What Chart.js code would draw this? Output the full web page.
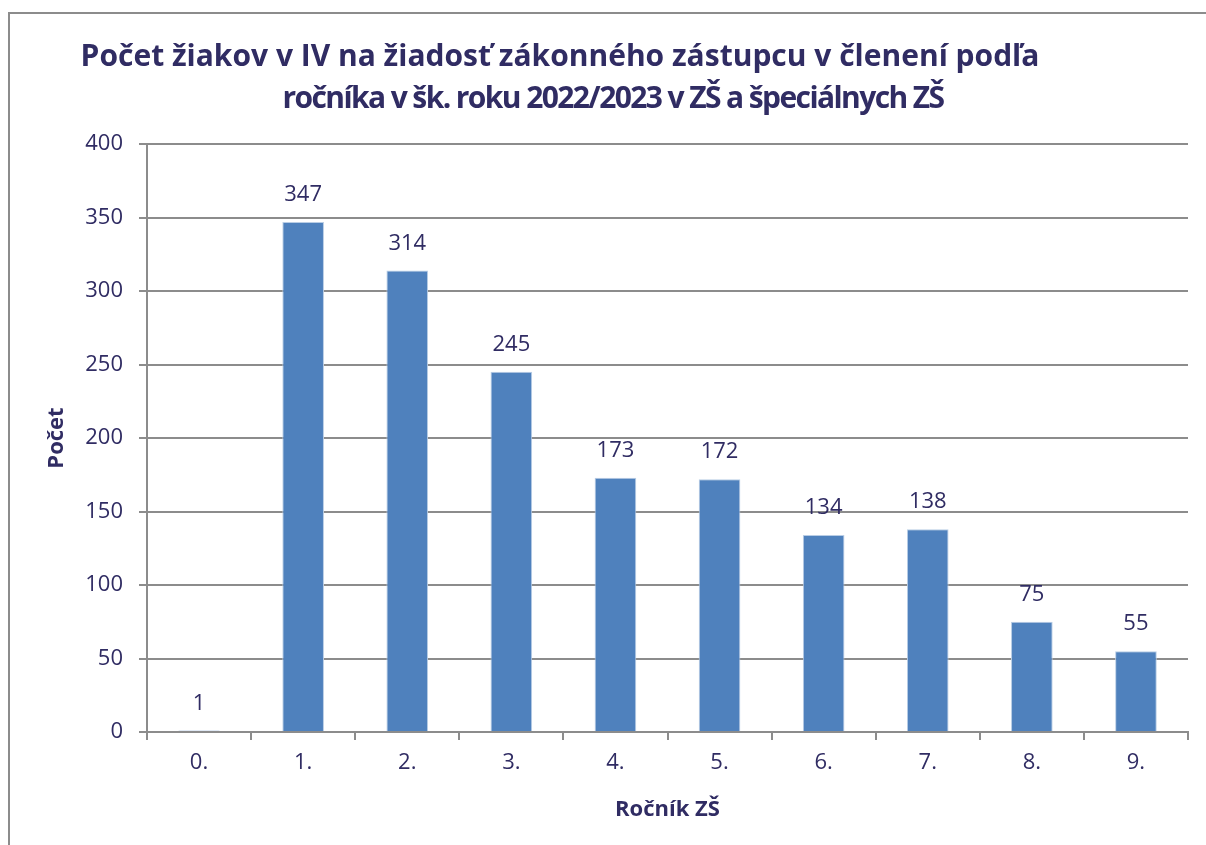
<!DOCTYPE html>
<html lang="sk">
<head>
  <meta charset="UTF-8">
  <title>Počet žiakov v IV</title>
  <script src="https://cdn.jsdelivr.net/npm/chart.js"></script>
  <style>
    html, body {
      margin: 0;
      padding: 0;
      background: #fff;
      overflow: hidden;
      width: 1206px;
      height: 845px;
    }
    .frame {
      position: absolute;
      left: 8px;
      top: 12px;
      width: 1400px;
      height: 1000px;
      border-left: 2px solid #8c8c8c;
      border-top: 2px solid #8c8c8c;
    }
    .title {
      position: absolute;
      width: 1000px;
      text-align: center;
      font-family: 'Open Sans', sans-serif;
      font-weight: bold;
      font-size: 30px;
      line-height: 42px;
      color: #302c63;
      white-space: nowrap;
    }
    .title.l1 { left: 60px; top: 34px; }
    .title.l2 { left: 113px; top: 76px; letter-spacing: -1.6px; }
    #chart {
      position: absolute;
      left: 0;
      top: 0;
    }
  </style>
</head>
<body>
<div class="frame"></div>
<canvas id="chart" width="1206" height="845"></canvas>
<div class="title l1">Počet žiakov v IV na žiadosť zákonného zástupcu v členení podľa</div>
<div class="title l2">ročníka v šk. roku 2022/2023 v ZŠ a špeciálnych ZŠ</div>
<script>
  // údaje z grafu
  var rocniky = ['0.', '1.', '2.', '3.', '4.', '5.', '6.', '7.', '8.', '9.'];
  var pocty = [1, 347, 314, 245, 173, 172, 134, 138, 75, 55];
  var yTicks = [0, 50, 100, 150, 200, 250, 300, 350, 400];

  var textColor = '#302c63';
  var gridColor = '#8c8c8c';
  var fontFamily = "'Open Sans', sans-serif";

  // hodnoty nad stĺpcami
  var valueLabels = {
    id: 'valueLabels',
    afterDatasetsDraw: function(chart) {
      var ctx = chart.ctx;
      var meta = chart.getDatasetMeta(0);
      ctx.save();
      ctx.font = '22px ' + fontFamily;
      ctx.fillStyle = textColor;
      ctx.textAlign = 'center';
      ctx.textBaseline = 'middle';
      meta.data.forEach(function(bar, i) {
        ctx.fillText(String(pocty[i]), bar.x, bar.y - 27);
      });
      ctx.restore();
    }
  };

  new Chart(document.getElementById('chart'), {
    type: 'bar',
    data: {
      labels: rocniky,
      datasets: [{
        data: pocty,
        backgroundColor: '#4f81bd',
        borderColor: '#b9cde5',
        borderWidth: 1,
        barPercentage: 0.4,
        categoryPercentage: 1
      }]
    },
    options: {
      responsive: false,
      animation: false,
      layout: { padding: { left: 0, right: 18, top: 144, bottom: 0 } },
      plugins: {
        legend: { display: false },
        tooltip: { enabled: false }
      },
      scales: {
        x: {
          afterFit: function(scale) { scale.height = 113; },
          grid: {
            drawOnChartArea: false,
            drawTicks: true,
            tickLength: 8,
            color: gridColor,
            lineWidth: 2
          },
          border: { color: gridColor, width: 2 },
          ticks: {
            color: textColor,
            font: { family: fontFamily, size: 22 },
            padding: 10
          },
          title: {
            display: true,
            text: 'Ročník ZŠ',
            color: textColor,
            font: { family: fontFamily, size: 22, weight: 'bold' },
            padding: { top: 0, bottom: 22 }
          }
        },
        y: {
          min: 0,
          max: 400,
          afterFit: function(scale) { scale.width = 147; },
          afterBuildTicks: function(scale) {
            scale.ticks = yTicks.map(function(v) { return { value: v }; });
          },
          grid: {
            color: gridColor,
            lineWidth: 2,
            tickLength: 8
          },
          border: { color: gridColor, width: 2 },
          ticks: {
            color: textColor,
            font: { family: fontFamily, size: 22 },
            padding: 16
          },
          title: {
            display: true,
            text: 'Počet',
            color: textColor,
            font: { family: fontFamily, size: 22, weight: 'bold' },
            padding: { top: 44, bottom: 0 }
          }
        }
      }
    },
    plugins: [valueLabels]
  });
</script>
</body>
</html>
